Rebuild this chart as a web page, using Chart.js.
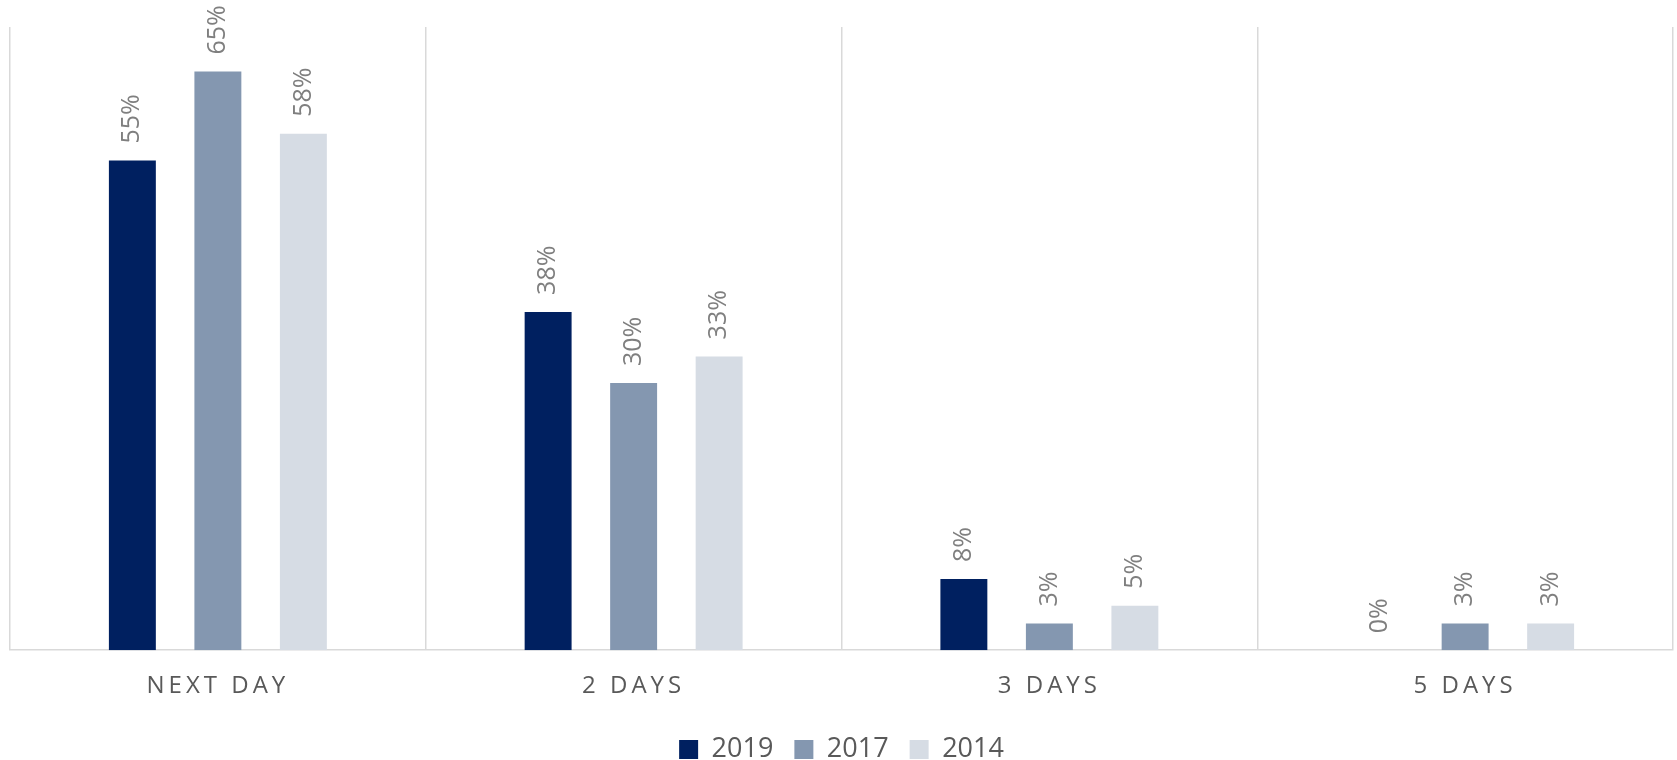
<!DOCTYPE html>
<html>
<head>
<meta charset="utf-8">
<script src="https://cdn.jsdelivr.net/npm/chart.js@4/dist/chart.umd.min.js"></script>
<style>
  html, body { margin: 0; padding: 0; background: #fff; }
  #wrap { width: 1677px; height: 760px; }
</style>
</head>
<body>
<div id="wrap"><canvas id="myChart" width="1677" height="760"></canvas></div>
<script>
// Data
const categories = ['NEXT DAY', '2 DAYS', '3 DAYS', '5 DAYS'];
const years = ['2019', '2017', '2014'];
const values2019 = [55, 38, 8, 0];
const values2017 = [65, 30, 3, 3];
const values2014 = [58, 33, 5, 3];
const colors = ['#002060', '#8497B0', '#D6DCE4'];

Chart.defaults.font.family = '"Open Sans", "DejaVu Sans", sans-serif';
Chart.defaults.color = '#595959';

// Rotated value labels above each bar
const barLabels = {
  id: 'barLabels',
  afterDatasetsDraw(chart) {
    const ctx = chart.ctx;
    ctx.save();
    ctx.font = '25px "Open Sans"';
    ctx.fillStyle = '#7f7f7f';
    ctx.textAlign = 'left';
    ctx.textBaseline = 'middle';
    chart.data.datasets.forEach((ds, i) => {
      chart.getDatasetMeta(i).data.forEach((bar, j) => {
        ctx.save();
        ctx.translate(bar.x, bar.y - 17);
        ctx.rotate(-Math.PI / 2);
        ctx.fillText(ds.data[j] + '%', 0, 0);
        ctx.restore();
      });
    });
    ctx.restore();
  }
};

// Letter spacing on category labels, legend nudged
const tweaks = {
  id: 'tweaks',
  beforeDraw(chart) {
    const sx = chart.scales.x;
    if (!sx._spaced) {
      const orig = sx.drawLabels.bind(sx);
      sx.drawLabels = function(area) {
        const c = chart.ctx;
        const prev = c.letterSpacing;
        c.letterSpacing = '4px';
        orig(area);
        c.letterSpacing = prev;
      };
      sx._spaced = true;
    }
    if (!chart.legend._moved) {
      chart.legend.top -= 8;
      chart.legend.bottom -= 8;
      chart.legend._moved = true;
    }
  }
};

const ctx = document.getElementById('myChart').getContext('2d');

const myChart = new Chart(ctx, {
  type: 'bar',
  data: {
    labels: categories,
    datasets: [
      { label: years[0], data: values2019, backgroundColor: colors[0] },
      { label: years[1], data: values2017, backgroundColor: colors[1] },
      { label: years[2], data: values2014, backgroundColor: colors[2] }
    ]
  },
  options: {
    responsive: false,
    animation: false,
    events: [],
    categoryPercentage: 0.617,
    barPercentage: 0.549,
    layout: { padding: { top: 27, left: 10, right: 4, bottom: -21 } },
    scales: {
      x: {
        grid: { color: '#d9d9d9', lineWidth: 1.5, drawTicks: false, offset: true },
        border: { color: '#d9d9d9', width: 1.5 },
        ticks: { padding: 22, color: '#595959', font: { size: 24 } }
      },
      y: {
        display: false,
        min: 0,
        max: 70
      }
    },
    plugins: {
      tooltip: { enabled: false },
      legend: {
        position: 'bottom',
        labels: {
          boxWidth: 19,
          boxHeight: 19,
          padding: 21,
          color: '#595959',
          font: { size: 27 }
        }
      }
    }
  },
  plugins: [barLabels, tweaks]
});
</script>
</body>
</html>
